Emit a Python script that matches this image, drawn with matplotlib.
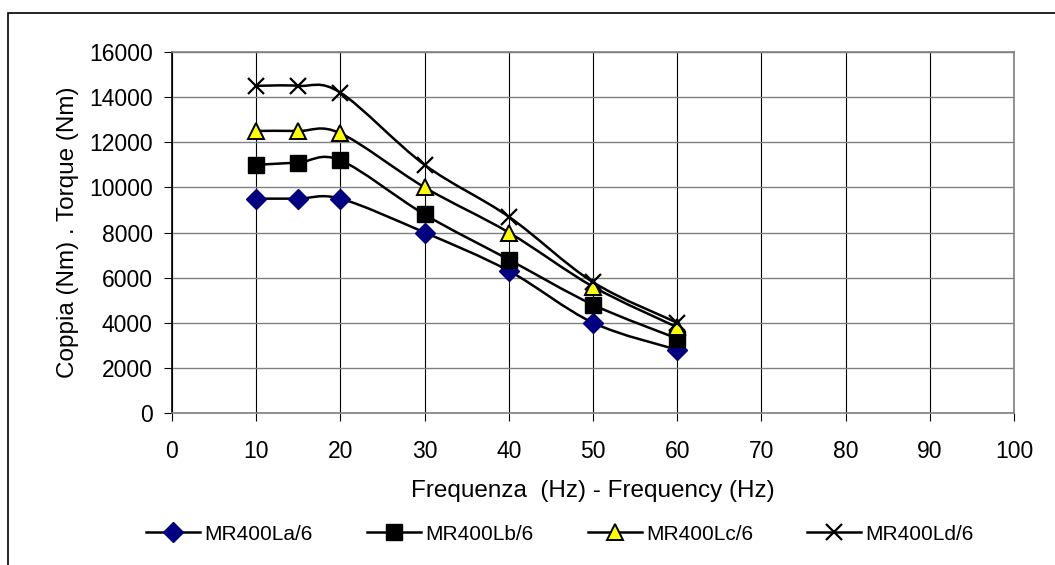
"""
Torque vs frequency chart for MR400L motors
"""
import matplotlib
matplotlib.use("Agg")
import matplotlib.pyplot as plt
import numpy as np
from matplotlib.path import Path
from matplotlib.patches import PathPatch, Rectangle

plt.rcParams['font.family'] = ['Liberation Sans', 'DejaVu Sans']

freq = [10, 15, 20, 30, 40, 50, 60]
torque_la = [9500, 9500, 9500, 8000, 6300, 4000, 2800]
torque_lb = [11000, 11100, 11200, 8800, 6800, 4800, 3300]
torque_lc = [12500, 12500, 12400, 10000, 8000, 5600, 3800]
torque_ld = [14500, 14500, 14200, 11000, 8700, 5800, 4000]
labels = ['MR400La/6', 'MR400Lb/6', 'MR400Lc/6', 'MR400Ld/6']


def smooth_path(x, y):
    """Excel-like smoothed line: cubic Bezier through the data points"""
    pts = np.column_stack([x, y]).astype(float)
    n = len(pts)
    verts = [pts[0]]
    codes = [Path.MOVETO]
    for i in range(n - 1):
        p0 = pts[i - 1] if i > 0 else pts[i]
        p1 = pts[i]
        p2 = pts[i + 1]
        p3 = pts[i + 2] if i + 2 < n else pts[i + 1]
        c1 = p1 + (p2 - p0) / 6.0
        c2 = p2 - (p3 - p1) / 6.0
        verts += [c1, c2, p2]
        codes += [Path.CURVE4] * 3
    return Path(verts, codes)


W, H = 1055, 565
fig = plt.figure(figsize=(W / 100, H / 100), dpi=100)
# chart frame: only top and left edges fall inside the picture
fig.patches.append(Rectangle((8 / W, -10 / H), 1060 / W, 562 / H,
                             transform=fig.transFigure, fill=False,
                             edgecolor='black', linewidth=1.2))
ax = fig.add_axes([172 / W, 1 - 413 / H, (1014 - 172) / W, (413 - 52) / H])

styles = [
    dict(marker='D', markersize=10, markerfacecolor='#000080', markeredgecolor='#000080'),
    dict(marker='s', markersize=11, markerfacecolor='black', markeredgecolor='black'),
    dict(marker='^', markersize=11, markerfacecolor='#ffff00', markeredgecolor='black', markeredgewidth=1.4),
    dict(marker='x', markersize=11, color='black', markeredgewidth=1.6),
]
series = [torque_la, torque_lb, torque_lc, torque_ld]

for vals, lab, st in zip(series, labels, styles):
    ax.add_patch(PathPatch(smooth_path(freq, vals), fill=False, edgecolor='black',
                           linewidth=1.8, zorder=3))
    ax.plot(freq, vals, linestyle='none', zorder=4, **st)
    # legend proxy
    ax.plot([], [], color='black', linewidth=1.8, label=lab,
            **{k: v for k, v in st.items() if k != 'color'})

ax.set_xlim(0, 100)
ax.set_ylim(0, 16000)
ax.set_xticks(range(0, 101, 10))
ax.set_yticks(range(0, 16001, 2000))
ax.grid(axis='x', color='black', linewidth=0.8)
ax.grid(axis='y', color='#808080', linewidth=1.0)
ax.set_axisbelow(True)
for side in ['top', 'right', 'bottom']:
    ax.spines[side].set_color('#808080')
    ax.spines[side].set_linewidth(1.2)
ax.spines['left'].set_color('black')
ax.spines['left'].set_linewidth(1.2)
ax.tick_params(labelsize=16.5, length=6, width=0.8, color='black')
ax.tick_params(axis='x', pad=13.5)
ax.tick_params(axis='y', pad=8)
ax.set_xlabel('Frequenza  (Hz) - Frequency (Hz)', fontsize=17.5, labelpad=12)
ax.set_ylabel('Coppia (Nm) . Torque (Nm)', fontsize=17.5, labelpad=7)

fig.legend(loc='center', bbox_to_anchor=(560 / W, 1 - 534 / H), ncol=4, frameon=False,
           fontsize=15, handlelength=2.6, columnspacing=2.6, handletextpad=0.2)

plt.savefig('out.png', dpi=100)
